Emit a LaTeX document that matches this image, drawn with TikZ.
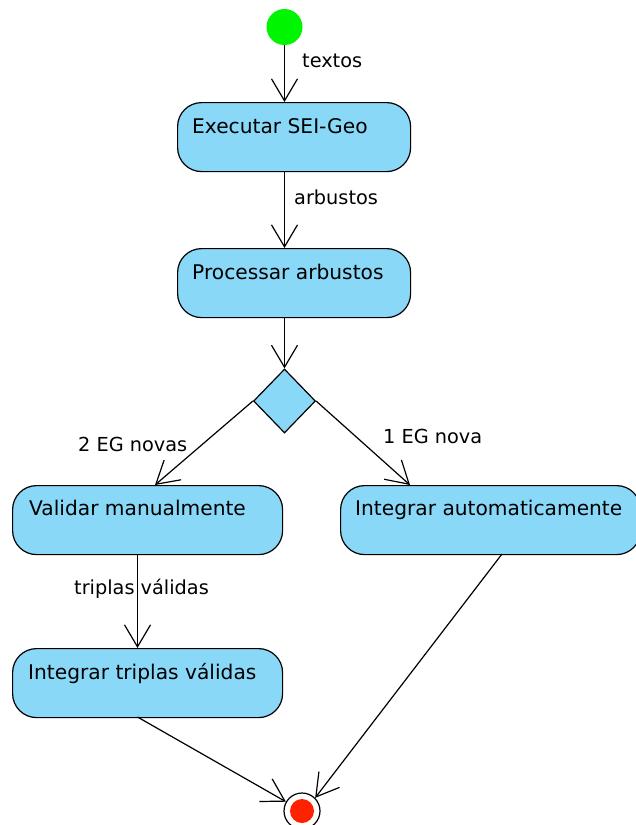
\documentclass[tikz,border=0pt]{standalone}
\usepackage{fontspec}
\setmainfont{DejaVu Sans}
\usetikzlibrary{arrows.meta,shapes.geometric}
\definecolor{actfill}{RGB}{137,216,247}
\definecolor{startgreen}{RGB}{0,245,0}
\definecolor{endred}{RGB}{255,34,0}
\tikzset{
  activity/.style={draw=black, line width=1.2pt, fill=actfill, rounded corners=24pt,
    rectangle, minimum width=#1, minimum height=69pt, inner sep=0pt, anchor=north west},
  acttext/.style={anchor=base west, inner sep=0pt, font=\fontsize{20.2}{24}\selectfont},
  flowlabel/.style={anchor=base west, inner sep=0pt, font=\fontsize{19.3}{23}\selectfont},
  flow/.style={draw=black, line width=1.2pt, -{Straight Barb[length=22pt,width=26pt,line width=1.2pt]}},
}
\begin{document}
\begin{tikzpicture}[x=1pt,y=-1pt]
\useasboundingbox (0,0) rectangle (635,825);

% start and final states
\node[circle, fill=startgreen, minimum size=36pt, inner sep=0pt] (start) at (284.5,27) {};
\node[circle, draw=black, fill=white, line width=1.2pt, minimum size=36pt, inner sep=0pt] (final) at (302,811) {};
\node[circle, fill=endred, minimum size=24pt, inner sep=0pt] (finaldot) at (302,811) {};

% activities
\node[activity=233pt] (exec) at (177,102) {};
\node[acttext] (exect) at (192,133) {Executar SEI-Geo};
\node[activity=233pt] (proc) at (177,248) {};
\node[acttext] (proct) at (192,279) {Processar arbustos};
\node[activity=270pt] (valid) at (12,485) {};
\node[acttext] (validt) at (29,515) {Validar manualmente};
\node[activity=300pt] (auto) at (340,485) {};
\node[acttext] (autot) at (355,515) {Integrar automaticamente};
\node[activity=270pt] (integ) at (12,648) {};
\node[acttext] (integt) at (28,679) {Integrar triplas válidas};

% decision
\node[diamond, draw=black, fill=actfill, line width=1.2pt, minimum width=62pt, minimum height=64pt, inner sep=0pt] (dec) at (284.5,401) {};

% anchor points on the activity borders
\coordinate (execTop) at (284.5,102);
\coordinate (execBot) at (284.5,171);
\coordinate (procTop) at (284.5,248);
\coordinate (procBot) at (284.5,317);
\coordinate (validTop) at (155,485);
\coordinate (autoTop) at (410,485);
\coordinate (validBot) at (137.5,554);
\coordinate (integTop) at (137.5,648);
\coordinate (integBot) at (137.5,717);
\coordinate (autoBot) at (502,554);

% flows
\draw[flow] (start.south) -- (execTop);
\draw[flow] (execBot) -- (procTop);
\draw[flow] (procBot) -- (dec.north);
\draw[flow] (dec.west) -- (validTop);
\draw[flow] (dec.east) -- (autoTop);
\draw[flow] (validBot) -- (integTop);
\draw[flow] (integBot) -- (final.150);
\draw[flow] (autoBot) -- (final.45);

% flow labels
\node[flowlabel] (ltextos) at (302,67) {textos};
\node[flowlabel] (larb) at (294,204) {arbustos};
\node[flowlabel] (ltwo) at (78,451) {2 EG novas};
\node[flowlabel] (lone) at (383,443) {1 EG nova};
\node[flowlabel] (ltrip) at (74,594) {triplas válidas};
\end{tikzpicture}
\end{document}
